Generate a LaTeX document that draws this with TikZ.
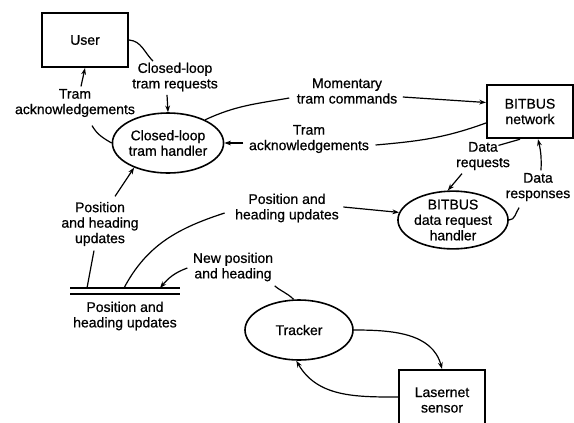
\documentclass[tikz,border=0pt]{standalone}
\usepackage{fontspec}
\setmainfont{Liberation Sans}[FakeBold=0.7]
\usetikzlibrary{shapes.geometric,arrows.meta,calc}

\begin{document}
\begin{tikzpicture}[
  x=0.75pt, y=-0.75pt,
  every node/.style={font=\fontsize{10.5}{11.6}\selectfont},
  entity/.style={draw, line width=1.6pt, rectangle, minimum width=64.5pt,
    align=center, inner sep=1pt},
  process/.style={draw, line width=1.2pt, ellipse, align=center, inner sep=0pt},
  flowlabel/.style={align=center, inner sep=1pt},
  flow/.style={line width=0.9pt},
  arrowflow/.style={flow, -{Stealth[length=5pt,width=3.6pt]}},
  storeline/.style={line width=2pt},
]
\useasboundingbox (0,0) rectangle (574,422);

% external entities
\node[entity, minimum height=40.5pt] (user) at (85,40) {User};
\node[entity, minimum height=40pt] (bitbus) at (530,111.5) {BITBUS\\network};
\node[entity, minimum height=45pt] (laser) at (442,400) {Lasernet\\sensor};

% processes
\node[process, minimum width=82.5pt, minimum height=45pt] (clh) at (168,143)
  {Closed-loop\\tram handler};
\node[process, minimum width=82.5pt, minimum height=42pt] (bdh) at (453,220)
  {BITBUS\\data request\\handler};
\node[process, minimum width=81pt, minimum height=45pt] (trk) at (299,330)
  {Tracker};

% data store
\coordinate (sA1) at (70,288);
\coordinate (sA2) at (180,288);
\coordinate (sB1) at (70,294);
\coordinate (sB2) at (180,294);
\draw[storeline] (sA1) -- (sA2);
\draw[storeline] (sB1) -- (sB2);
\node[flowlabel] (store) at (125,316) {Position and\\heading updates};
\coordinate (sIn5) at (87,288);
\coordinate (sIn6) at (124,288);
\coordinate (sIn9) at (160,288);

% flow labels
\node[flowlabel] (l1) at (175,77) {Closed-loop\\tram requests};
\node[flowlabel] (l2) at (75,103) {Tram\\acknowledgements};
\node[flowlabel] (l3) at (347,91) {Momentary\\tram commands};
\node[flowlabel] (l4) at (309,139) {Tram\\acknowledgements};
\node[flowlabel] (l5) at (100,224) {Position\\and heading\\updates};
\node[flowlabel] (l6) at (287,208) {Position and\\heading updates};
\node[flowlabel] (l7) at (483,156) {Data\\requests};
\node[flowlabel] (l8) at (538,187) {Data\\responses};
\node[flowlabel] (l9) at (233,267) {New position\\and heading};

% User -> closed-loop handler
\draw[flow] (user.east) to[out=-5,in=135] ($(l1.north)+(-22,0)$);
\draw[arrowflow] ($(l1.south)+(-8,2)$) -- (clh.north);

% closed-loop handler -> User
\draw[flow] (clh.west) to[out=150,in=-60] ($(l2.south)+(17,7)$);
\draw[arrowflow] ($(l2.north)+(6,-1)$) -- (user.south);

% closed-loop handler -> BITBUS network
\draw[flow] (clh.32) to[out=25,in=190] ($(l3.west)+(-6,7)$);
\draw[arrowflow] ($(l3.east)+(4,6)$) -- ($(bitbus.west)+(0,-9)$);

% BITBUS network -> closed-loop handler
\draw[flow] ($(bitbus.west)+(0,11.5)$) to[out=200,in=5] ($(l4.east)+(5,6)$);
\draw[arrowflow] ($(l4.west)+(-4,4)$) -- (clh.east);

% data store -> closed-loop handler
\draw[flow] (sIn5) -- ($(l5.south)+(-6,3)$);
\draw[arrowflow] ($(l5.north)+(15,-4)$) -- (clh.216);

% data store -> BITBUS data request handler
\draw[flow] (sIn6) to[out=62,in=198] ($(l6.west)+(-9,5)$);
\draw[arrowflow] ($(l6.east)+(3,-1)$) -- (bdh.172);

% BITBUS network -> data request handler
\draw[flow] ($(bitbus.south)+(-10,0)$) -- ($(l7.north east)+(-13,5)$);
\draw[arrowflow] ($(l7.south)+(-21,2)$) -- (bdh.100);

% data request handler -> BITBUS network
\draw[flow] (bdh.east) to[out=0,in=-125] ($(l8.south west)+(15,5)$);
\draw[arrowflow] ($(l8.north)+(3,-1)$) to[bend right=8] ($(bitbus.south)+(8,0)$);

% tracker -> data store
\draw[flow] (trk.100) to[out=135,in=-40] ($(l9.south east)+(0,3)$);
\draw[arrowflow] ($(l9.west)+(-4,1)$) to[out=200,in=50] (sIn9);

% tracker <-> Lasernet sensor
\draw[arrowflow] (trk.east) to[out=0,in=105] (laser.north);
\draw[arrowflow] ($(laser.west)+(0,-3)$) to[out=180,in=-60] (trk.265);
\end{tikzpicture}
\end{document}
